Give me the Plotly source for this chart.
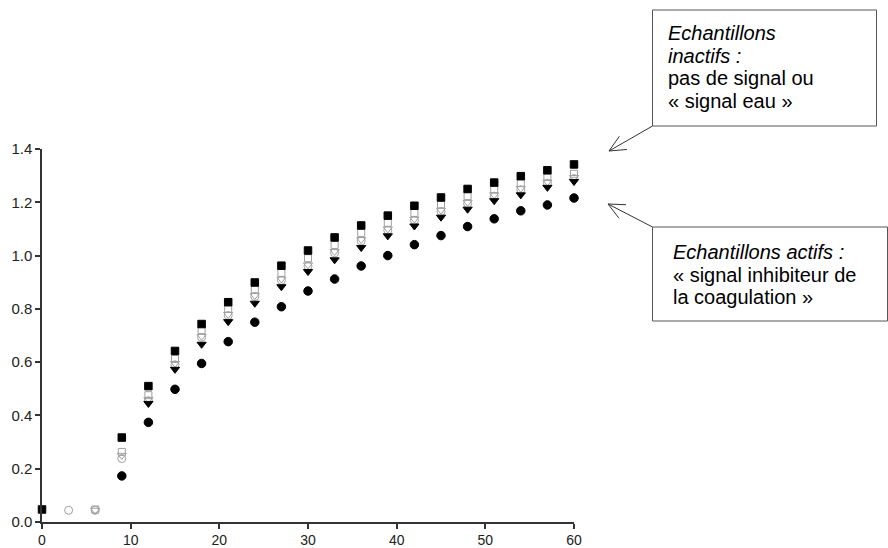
import math
import plotly.graph_objects as go

# ---- data ----
time_min = [0, 3, 6, 9, 12, 15, 18, 21, 24, 27, 30, 33, 36, 39, 42, 45, 48, 51, 54, 57, 60]

filled_square = [0.047, None, None, 0.317, 0.510, 0.642, 0.743, 0.825, 0.899, 0.962, 1.019,
                 1.068, 1.113, 1.150, 1.187, 1.218, 1.250, 1.274, 1.298, 1.320, 1.342]
filled_triangle = [None, None, None, None, 0.445, 0.573, 0.667, 0.752, 0.821, 0.883, 0.940,
                   0.984, 1.030, 1.074, 1.111, 1.144, 1.174, 1.206, 1.228, 1.256, 1.278]
filled_circle = [None, None, None, 0.173, 0.374, 0.498, 0.595, 0.677, 0.750, 0.808, 0.867,
                 0.912, 0.961, 1.000, 1.041, 1.075, 1.109, 1.138, 1.168, 1.190, 1.216]
open_square = [None, None, 0.047, 0.263, 0.476, 0.612, 0.720, 0.800, 0.873, 0.935, 0.990,
               1.040, 1.085, 1.123, 1.160, 1.192, 1.223, 1.248, 1.272, 1.295, 1.307]
open_triangle = [None, None, 0.044, 0.250, 0.460, 0.595, 0.697, 0.779, 0.850, 0.912, 0.965,
                 1.015, 1.060, 1.100, 1.137, 1.170, 1.200, 1.228, 1.252, 1.276, 1.293]
open_circle = [None, 0.044, 0.044, 0.238, 0.455, 0.590, 0.693, 0.775, 0.846, 0.907, 0.960,
               1.010, 1.055, 1.095, 1.132, 1.165, 1.195, 1.223, 1.247, 1.271, 1.289]

x_ticks = [0, 10, 20, 30, 40, 50, 60]
y_ticks = [0.0, 0.2, 0.4, 0.6, 0.8, 1.0, 1.2, 1.4]

box1_lines = ["<i>Echantillons</i>", "<i>inactifs :</i>", "pas de signal ou", "« signal eau »"]
box2_lines = ["<i>Echantillons actifs :</i>", "« signal inhibiteur de", "la coagulation »"]

# ---- figure ----
W, H = 888, 548
L, R, T, B = 42, 314, 149, 26
pw, ph = W - L - R, H - T - B

def px(x):  # page pixel -> paper fraction
    return (x - L) / pw

def py(y):
    return (H - B - y) / ph

fig = go.Figure()

GRAY = "#a0a0a0"
series = [
    ("open circle", open_circle, "circle-open", GRAY, 8),
    ("open triangle", open_triangle, "triangle-down-open", GRAY, 8),
    ("open square", open_square, "square-open", GRAY, 7),
    ("filled triangle", filled_triangle, "triangle-down", "black", 8),
    ("filled circle", filled_circle, "circle", "black", 8.5),
    ("filled square", filled_square, "square", "black", 7.5),
]
for name, ys, sym, col, sz in series:
    fig.add_trace(go.Scatter(
        x=time_min, y=ys, mode="markers", name=name,
        marker=dict(symbol=sym, size=sz, color=col, line=dict(width=1, color=col)),
        cliponaxis=False, showlegend=False,
    ))

shapes = []
shapes.append(dict(type="rect", xref="paper", yref="paper",
                   x0=px(652.5), x1=px(876.5), y0=py(126), y1=py(10),
                   line=dict(color="#555555", width=1), fillcolor="rgba(0,0,0,0)"))
shapes.append(dict(type="rect", xref="paper", yref="paper",
                   x0=px(652.5), x1=px(887.5), y0=py(321), y1=py(227),
                   line=dict(color="#555555", width=1), fillcolor="rgba(0,0,0,0)"))

def arrow(tail, head, blen=18, spread=25):
    (tx, ty), (hx, hy) = tail, head
    ang = math.atan2(ty - hy, tx - hx)
    out = [dict(type="line", xref="paper", yref="paper",
                x0=px(tx), y0=py(ty), x1=px(hx), y1=py(hy),
                line=dict(color="#333333", width=1))]
    for s in (-spread, spread):
        a = ang + math.radians(s)
        bx, by = hx + blen * math.cos(a), hy + blen * math.sin(a)
        out.append(dict(type="line", xref="paper", yref="paper",
                        x0=px(hx), y0=py(hy), x1=px(bx), y1=py(by),
                        line=dict(color="#333333", width=1)))
    return out

shapes += arrow((652.5, 126), (609, 151))
shapes += arrow((652.5, 227), (608, 204))

annotations = []
FONT = dict(family="Liberation Sans, Arial, sans-serif", size=20, color="black")
for i, t in enumerate(box1_lines):
    annotations.append(dict(text=t, xref="paper", yref="paper", x=px(666), y=py(33 + 22.6 * i),
                            xanchor="left", yanchor="middle", showarrow=False, font=FONT, align="left"))
for i, t in enumerate(box2_lines):
    annotations.append(dict(text=t, xref="paper", yref="paper", x=px(671), y=py(252 + 22.6 * i),
                            xanchor="left", yanchor="middle", showarrow=False, font=FONT, align="left"))

AX = dict(showgrid=False, zeroline=False, showline=True, linecolor="#333333", linewidth=1.5,
          ticks="outside", ticklen=5, tickwidth=1.5, tickcolor="#333333", automargin=False)
TICKFONT = dict(family="Liberation Sans, Arial, sans-serif", size=15, color="#222222")

fig.update_layout(
    width=W, height=H,
    margin=dict(l=L, r=R, t=T, b=B, pad=0, autoexpand=False),
    paper_bgcolor="white", plot_bgcolor="white",
    xaxis=dict(range=[0, 60], tickvals=x_ticks, ticktext=[str(v) for v in x_ticks],
               tickfont=dict(TICKFONT, size=14), ticklabelstandoff=-1, **AX),
    yaxis=dict(range=[0, 1.4], tickvals=y_ticks, ticktext=[f"{v:.1f}" for v in y_ticks],
               tickfont=TICKFONT, **AX),
    shapes=shapes, annotations=annotations,
    showlegend=False,
)

fig.write_html("out.html", config={"displayModeBar": False},
               post_script="document.body.style.margin='0';document.body.style.overflow='hidden';")
